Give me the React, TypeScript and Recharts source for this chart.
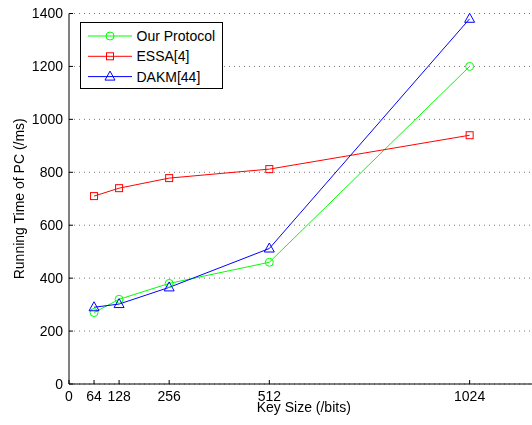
import { LineChart, Line, XAxis, YAxis, CartesianGrid, Legend } from "recharts";

const keySizes = [64, 128, 256, 512, 1024];
const ourProtocol = [270, 320, 380, 460, 1200];
const essa = [710, 740, 778, 812, 940];
const dakm = [290, 302, 365, 512, 1380];

const xTicks = [0, 64, 128, 256, 512, 1024];
const yTicks = [0, 200, 400, 600, 800, 1000, 1200, 1400];

const data = keySizes.map((k, i) => ({
  key: k,
  ours: ourProtocol[i],
  essa: essa[i],
  dakm: dakm[i],
}));

const series = [
  { key: "ours", name: "Our Protocol", color: "#00ff00", kind: "circle" },
  { key: "essa", name: "ESSA[4]", color: "#ff0000", kind: "square" },
  { key: "dakm", name: "DAKM[44]", color: "#0000ff", kind: "triangle" },
];

const font = "'Liberation Sans', Arial, Helvetica, sans-serif";

const Marker = ({ kind, cx, cy, color }: { kind: string; cx: number; cy: number; color: string }) => {
  if (kind === "circle") {
    return <circle cx={cx} cy={cy} r={4} fill="none" stroke={color} strokeWidth={1} />;
  }
  if (kind === "square") {
    return <rect x={cx - 3.5} y={cy - 3.5} width={7} height={7} fill="none" stroke={color} strokeWidth={1} />;
  }
  return (
    <polygon
      points={`${cx},${cy - 5.5} ${cx - 5},${cy + 3.5} ${cx + 5},${cy + 3.5}`}
      fill="none"
      stroke={color}
      strokeWidth={1}
    />
  );
};

const dotFor = (kind: string, color: string) => (props: any) => {
  const { cx, cy, index } = props;
  if (cx == null || cy == null) return <g key={index} />;
  return <Marker key={index} kind={kind} cx={cx} cy={cy} color={color} />;
};

// legend drawn in series order (recharts reorders the payload)
const LegendBox = () => (
  <svg width={143} height={67} style={{ display: "block" }}>
    <rect x={0.5} y={0.5} width={142} height={66} fill="#fff" stroke="#000" strokeWidth={1} />
    {series.map((s, i) => {
      const y = 14 + i * 20.3;
      return (
        <g key={s.key}>
          <line x1={8} x2={52} y1={y} y2={y} stroke={s.color} strokeWidth={1} />
          <Marker kind={s.kind} cx={30} cy={y} color={s.color} />
          <text x={56.5} y={y + 5} fontSize={14} fontFamily={font} fill="#000">
            {s.name}
          </text>
        </g>
      );
    })}
  </svg>
);

export default function App() {
  return (
    <div style={{ position: "fixed", top: 0, left: 0, width: 532, height: 425, overflow: "hidden" }}>
      <LineChart
        width={548}
        height={425}
        data={data}
        margin={{ top: 13.5, right: 9.5, left: 0, bottom: 0 }}
        style={{ fontFamily: font }}
      >
        <CartesianGrid vertical={false} stroke="#777" strokeDasharray="1 4" />
        <XAxis
          dataKey="key"
          type="number"
          domain={[0, 1200]}
          ticks={xTicks}
          interval={0}
          height={41}
          tickSize={-4}
          tickMargin={11.5}
          stroke="#000"
          tick={{ fill: "#000", fontSize: 14 }}
          allowDataOverflow
          label={{ value: "Key Size (/bits)", position: "insideBottom", offset: 13, fill: "#000", fontSize: 14 }}
        />
        <XAxis
          xAxisId="top"
          orientation="top"
          type="number"
          domain={[0, 1200]}
          ticks={xTicks}
          interval={0}
          height={0}
          tickSize={-4}
          tick={false}
          stroke="#000"
          allowDataOverflow
        />
        <YAxis
          type="number"
          domain={[0, 1400]}
          ticks={yTicks}
          interval={0}
          width={69}
          tickSize={-4}
          tickMargin={10}
          stroke="#000"
          tick={{ fill: "#000", fontSize: 14 }}
          label={{
            value: "Running Time of PC (/ms)",
            angle: -90,
            position: "insideLeft",
            offset: 19,
            fill: "#000",
            fontSize: 14,
            style: { textAnchor: "middle" },
          }}
        />
        <Legend
          layout="vertical"
          align="center"
          verticalAlign="middle"
          content={LegendBox}
          wrapperStyle={{ top: 21.7, left: 80, width: 143, height: 67 }}
        />
        {series.map((s) => (
          <Line
            key={s.key}
            dataKey={s.key}
            name={s.name}
            stroke={s.color}
            strokeWidth={1}
            dot={dotFor(s.kind, s.color)}
            isAnimationActive={false}
          />
        ))}
      </LineChart>
    </div>
  );
}
